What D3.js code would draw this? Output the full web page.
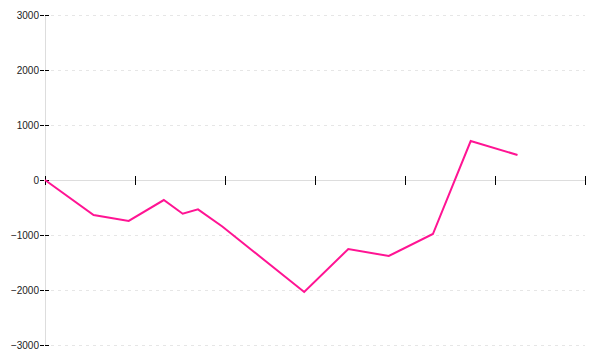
<!DOCTYPE html>
<html>
<head>
<meta charset="utf-8">
<script src="https://cdn.jsdelivr.net/npm/d3@7"></script>
<style>
  body { margin: 0; background: #fff; }
  svg { display: block; }
  text { font-family: "Liberation Sans", Arial, sans-serif; font-size: 10px; fill: #222; }
</style>
</head>
<body>
<svg id="chart" width="600" height="360"></svg>
<script>
// Data (x in arbitrary units 0..60, y values)
const xValues = [0, 5.4, 9.3, 13.2, 15.3, 17, 19.7, 28.8, 33.7, 38.2, 43.1, 47.3, 52.5];
const yValues = [0, -636, -745, -364, -613, -533, -845, -2036, -1255, -1382, -982, 709, 455];
const yTicks = [-3000, -2000, -1000, 0, 1000, 2000, 3000];
const xTicks = [0, 10, 20, 30, 40, 50, 60];

const svg = d3.select("#chart");
const x = d3.scaleLinear().domain([0, 60]).range([45, 585]);
const y = d3.scaleLinear().domain([-3000, 3000]).range([345, 15]);

// grid lines
svg.append("g").selectAll("line")
  .data(yTicks.filter(d => d !== 0))
  .join("line")
  .attr("x1", 51).attr("x2", 585)
  .attr("y1", d => y(d) + 0.5).attr("y2", d => y(d) + 0.5)
  .attr("stroke", "#e6e6e6").attr("stroke-width", 1)
  .attr("stroke-dasharray", "3,4");

// y axis line
svg.append("line")
  .attr("x1", x(0) + 0.5).attr("x2", x(0) + 0.5)
  .attr("y1", y(3000)).attr("y2", y(-3000))
  .attr("stroke", "#dddddd");

// x axis line at 0
svg.append("line")
  .attr("x1", x(0)).attr("x2", x(60))
  .attr("y1", y(0) + 0.5).attr("y2", y(0) + 0.5)
  .attr("stroke", "#dddddd");

// y ticks
svg.append("g").selectAll("line")
  .data(yTicks)
  .join("line")
  .attr("x1", 40).attr("x2", 50)
  .attr("y1", d => y(d) + 0.5).attr("y2", d => y(d) + 0.5)
  .attr("stroke", "#000").attr("stroke-dasharray", "4,1");

svg.append("g").selectAll("text")
  .data(yTicks)
  .join("text")
  .attr("x", 39)
  .attr("y", d => y(d))
  .attr("dy", "0.35em")
  .attr("text-anchor", "end")
  .text(d => d3.format("d")(d).replace("-", "\u2212"));

// x ticks
svg.append("g").selectAll("line")
  .data(xTicks)
  .join("line")
  .attr("x1", d => x(d) + 0.5).attr("x2", d => x(d) + 0.5)
  .attr("y1", y(0) - 4).attr("y2", y(0) + 5)
  .attr("stroke", "#000");

// line
const pts = xValues.map((d, i) => [d, yValues[i]]);
svg.append("path")
  .datum(pts)
  .attr("fill", "none")
  .attr("stroke", "#ff1493")
  .attr("stroke-width", 2)
  .attr("d", d3.line().x(d => x(d[0])).y(d => y(d[1])));
</script>
</body>
</html>
